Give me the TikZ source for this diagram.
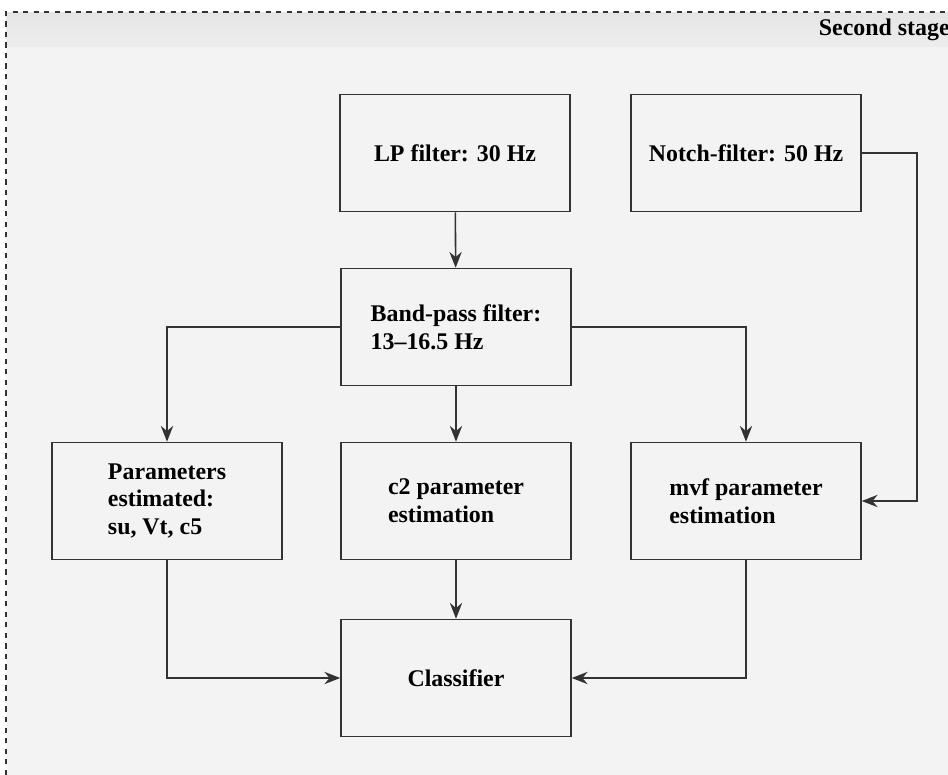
\documentclass[tikz,border=0pt]{standalone}
\usepackage{fontspec}
\setmainfont{Liberation Serif}
\usetikzlibrary{arrows.meta}
\definecolor{panelgray}{HTML}{F3F3F3}
\definecolor{headgray}{HTML}{E5E5E5}
\definecolor{linegray}{HTML}{333333}
\begin{document}
\begin{tikzpicture}[x=0.02cm, y=-0.02cm,
        block/.style={draw=linegray, line width=0.9pt, rectangle, minimum width=4.6cm,
            minimum height=2.34cm, align=left, font=\fontsize{13.6}{15.9}\selectfont\bfseries},
        link/.style={draw=linegray, line width=0.9pt, -{Stealth[length=9pt,width=7pt]}}]
            \useasboundingbox (0,0) rectangle (948,775);

            % panel
            \fill[panelgray] (6,12) rectangle (948,775);
            \shade[top color=headgray, bottom color=panelgray!60!headgray] (6,12) rectangle (948,46);
            \draw[linegray, dashed, line width=0.6pt] (6,775) -- (6,12) -- (948,12);
            \node[anchor=east, font=\fontsize{13.6}{15}\selectfont\bfseries, inner sep=0pt] (title) at (950,30) {Second stage};

            % blocks
            \node[block] (lp) at (455,153) {LP filter: 30 Hz};
            \node[block] (notch) at (746,153) {Notch-filter: 50 Hz};
            \node[block] (bp) at (456,327) {Band-pass filter:\\13--16.5 Hz};
            \node[block] (par) at (167,501) {Parameters\\estimated:\\su, Vt, c5};
            \node[block] (ctwo) at (456,501) {c2 parameter\\estimation};
            \node[block] (mvf) at (746,501) {mvf parameter\\estimation};
            \node[block] (cls) at (456,678) {Classifier};

            \coordinate (nturn) at (917,153);

            % links
            \draw[link] (lp) -- (bp);
            \draw[link] (bp.west) -| (par.north);
            \draw[link] (bp) -- (ctwo);
            \draw[link] (bp.east) -| (mvf.north);
            \draw[link] (notch.east) -- (nturn) |- (mvf.east);
            \draw[link] (par.south) |- (cls.west);
            \draw[link] (ctwo) -- (cls);
            \draw[link] (mvf.south) |- (cls.east);
        \end{tikzpicture}
\end{document}
